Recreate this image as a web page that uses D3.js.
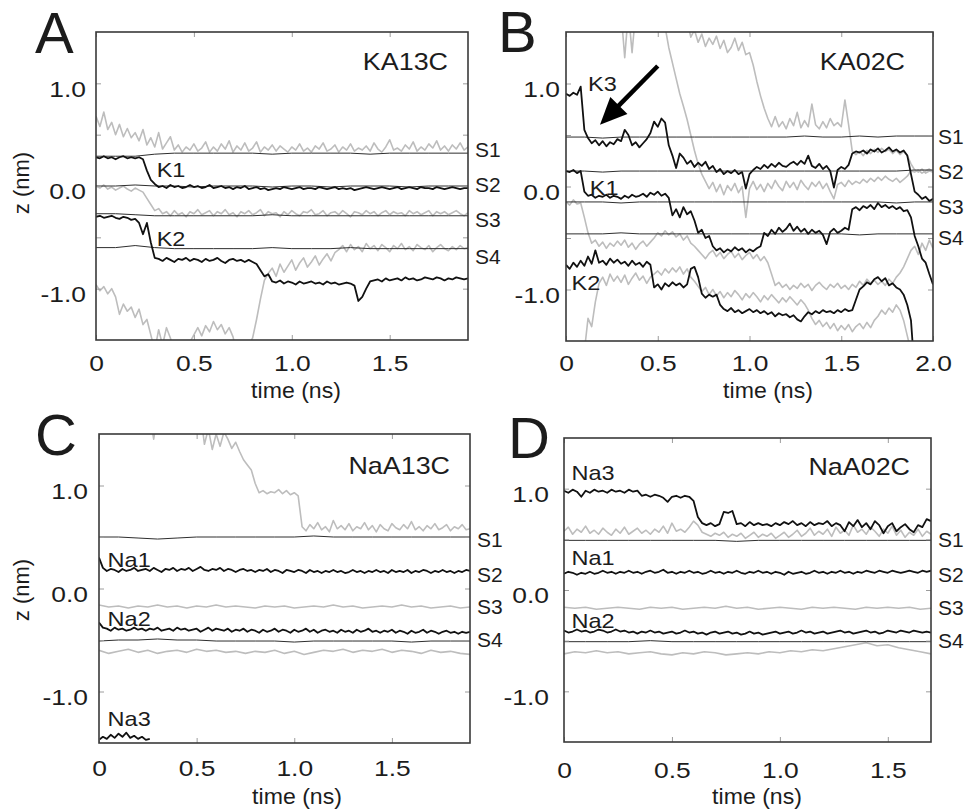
<!DOCTYPE html>
<html>
<head>
<meta charset="utf-8">
<script src="https://cdn.jsdelivr.net/npm/d3@7"></script>
<style>
  html, body { margin: 0; padding: 0; background: #ffffff; }
  svg text { font-family: "Liberation Sans", Arial, Helvetica, sans-serif; fill: #1c1c1c; }
</style>
</head>
<body>
<svg id="fig" width="966" height="811"></svg>
<script>
// ---------------------------------------------------------------
// Ion (black), water/other (grey) and site (thin) z-positions, nm.
// Traces are sampled on regular time steps given next to each one.
// ---------------------------------------------------------------

// Tick values
const xTicksShort = [0, 0.5, 1.0, 1.5];
const xTicksLong = [0, 0.5, 1.0, 1.5, 2.0];
const yTicks = [-1.0, -0.5, 0.0, 0.5, 1.0];
const siteNames = ["S1", "S2", "S3", "S4"];

// ---------- Panel A : KA13C (dt = 0.02 ns for traces, 0.1 ns for sites)
const A_K1 = [0.28,0.27,0.29,0.27,0.28,0.26,0.28,0.29,0.27,0.28,0.27,0.28,0.26,0.15,0.06,0.02,
  -0.01,0.00,-0.02,0.01,-0.01,0.00,-0.02,-0.01,0.01,-0.01,
  0.00,-0.02,-0.01,0.01,-0.02,-0.01,0.00,-0.02,-0.01,-0.03,
  -0.01,-0.02,0.00,-0.03,-0.02,-0.01,-0.03,-0.02,-0.04,-0.03,
  -0.02,-0.03,-0.01,-0.02,-0.03,-0.02,-0.01,-0.03,-0.02,-0.02,
  -0.03,-0.01,-0.02,-0.03,-0.02,-0.01,-0.03,-0.02,-0.03,-0.02,
  -0.04,-0.03,-0.02,-0.01,-0.02,-0.03,-0.02,-0.01,-0.02,-0.03,
  -0.02,-0.01,-0.03,-0.02,-0.01,-0.02,-0.03,-0.01,-0.02,-0.02,
  -0.03,-0.01,-0.02,-0.03,-0.02,-0.01,-0.02,-0.03,-0.02,-0.02];
const A_K2 = [-0.30,-0.29,-0.31,-0.30,-0.29,-0.31,-0.32,-0.30,-0.31,-0.33,-0.32,-0.36,-0.47,-0.36,-0.55,-0.70,
  -0.71,-0.73,-0.70,-0.72,-0.74,-0.71,-0.72,-0.70,-0.73,-0.71,
  -0.72,-0.74,-0.71,-0.73,-0.72,-0.70,-0.73,-0.75,-0.72,-0.71,
  -0.73,-0.72,-0.74,-0.72,-0.74,-0.76,-0.82,-0.88,-0.86,-0.93,
  -0.94,-0.92,-0.95,-0.93,-0.94,-0.96,-0.93,-0.95,-0.94,-0.93,
  -0.95,-0.94,-0.96,-0.93,-0.95,-0.94,-0.96,-0.95,-0.94,-0.95,
  -0.97,-1.12,-1.08,-1.00,-0.93,-0.92,-0.91,-0.93,-0.90,-0.92,
  -0.91,-0.90,-0.92,-0.89,-0.91,-0.90,-0.92,-0.91,-0.89,-0.90,
  -0.91,-0.89,-0.90,-0.92,-0.90,-0.91,-0.89,-0.90,-0.91,-0.90];
const A_G1 = [0.68,0.58,0.72,0.55,0.62,0.50,0.60,0.48,0.56,0.47,
  0.52,0.44,0.55,0.40,0.47,0.38,0.52,0.36,0.42,0.48,
  0.35,0.40,0.33,0.38,0.35,0.41,0.34,0.37,0.43,0.33,
  0.38,0.34,0.41,0.36,0.44,0.33,0.39,0.35,0.42,0.34,
  0.37,0.43,0.33,0.38,0.35,0.40,0.34,0.39,0.36,0.33,
  0.38,0.35,0.41,0.34,0.37,0.33,0.39,0.36,0.42,0.34,
  0.36,0.40,0.33,0.38,0.35,0.41,0.34,0.37,0.35,0.39,
  0.34,0.42,0.36,0.33,0.38,0.45,0.35,0.37,0.34,0.40,
  0.36,0.43,0.34,0.38,0.35,0.41,0.37,0.44,0.35,0.39,
  0.34,0.40,0.36,0.42,0.35,0.38];
const A_G2 = [0.00,-0.02,0.01,-0.03,-0.01,-0.04,-0.02,0.00,-0.03,-0.05,-0.02,-0.04,
  -0.06,-0.12,-0.18,-0.24,-0.22,-0.27,
  -0.25,-0.29,-0.24,-0.28,-0.26,-0.30,-0.25,-0.27,-0.23,-0.28,
  -0.26,-0.24,-0.29,-0.25,-0.27,-0.23,-0.28,-0.26,-0.30,-0.25,
  -0.27,-0.24,-0.28,-0.26,-0.23,-0.29,-0.25,-0.27,-0.26,-0.30,
  -0.25,-0.28,-0.24,-0.27,-0.29,-0.25,-0.26,-0.23,-0.28,-0.27,
  -0.24,-0.29,-0.26,-0.25,-0.28,-0.24,-0.27,-0.30,-0.25,-0.26,
  -0.28,-0.24,-0.27,-0.25,-0.29,-0.26,-0.24,-0.28,-0.25,-0.27,
  -0.26,-0.29,-0.24,-0.27,-0.25,-0.28,-0.26,-0.24,-0.29,-0.25,
  -0.27,-0.25,-0.28,-0.26,-0.24,-0.27,-0.29,-0.26];
const A_G3 = [-0.96,-1.02,-0.98,-1.05,-1.00, -1.08,-1.25,-1.15,-1.22,-1.18,
  -1.28,-1.20,-1.35,-1.30,-1.45, -1.60,-1.40,-1.55,-1.38,-1.48,
  -1.62,-1.70,-1.65,-1.58,-1.52, -1.45,-1.38,-1.46,-1.36,-1.42,
  -1.32,-1.40,-1.35,-1.44,-1.38, -1.47,-1.65,-1.70,-1.62,-1.55,
  -1.48,-1.30,-1.10,-0.92,-0.85, -0.80,-0.88,-0.76,-0.84,-0.78,
  -0.72,-0.82,-0.75,-0.70,-0.79, -0.74,-0.68,-0.77,-0.71,-0.66,
  -0.73,-0.65,-0.62,-0.58,-0.64, -0.57,-0.62,-0.59,-0.64,-0.56,
  -0.61,-0.58,-0.63,-0.57,-0.60, -0.64,-0.58,-0.61,-0.56,-0.62,
  -0.59,-0.63,-0.57,-0.60,-0.62, -0.58,-0.64,-0.60,-0.57,-0.61,
  -0.63,-0.59,-0.62,-0.58,-0.61,-0.60];
const A_S1 = [0.29,0.29,0.29,0.31,0.32,0.32,0.32,0.32,0.32,0.31,0.32,0.32,0.32,0.32,0.31,0.32,0.32,0.32,0.32,0.32];
const A_S2 = [0.00,0.00,0.01,0.00,0.00,-0.01,0.00,0.00,0.00,-0.01,0.00,0.00,-0.01,0.00,0.00,0.00,-0.01,0.00,0.00,0.00];
const A_S3 = [-0.27,-0.27,-0.28,-0.29,-0.29,-0.29,-0.29,-0.29,-0.29,-0.28,-0.29,-0.29,-0.29,-0.29,-0.29,-0.29,-0.29,-0.29,-0.29,-0.29];
const A_S4 = [-0.60,-0.60,-0.58,-0.60,-0.61,-0.61,-0.61,-0.61,-0.61,-0.60,-0.61,-0.61,-0.61,-0.60,-0.61,-0.61,-0.61,-0.61,-0.61,-0.61];

// ---------- Panel B : KA02C
const B_K3 = [0.90,0.88,0.91,0.89,0.97, 0.55,0.47,0.42,0.45,0.40,
  0.44,0.39,0.43,0.41,0.46, 0.44,0.55,0.50,0.40,0.43,
  0.38,0.42,0.46,0.52,0.63, 0.58,0.66,0.62,0.40,0.30,
  0.18,0.32,0.28,0.22,0.25, 0.19,0.23,0.20,0.24,0.17,
  0.20,0.14,0.17,0.12,0.15, 0.13,0.16,0.12,0.14,-0.02,
  0.12,0.16,0.19,0.17,0.21, 0.18,0.22,0.19,0.23,0.20,
  0.19,0.22,0.24,0.21,0.25, 0.22,0.30,0.20,0.18,0.22,
  0.17,0.20,0.15,-0.01,0.16, 0.19,0.17,0.21,0.32,0.34,
  0.33,0.35,0.32,0.36,0.34, 0.37,0.33,0.35,0.38,0.34,
  0.36,0.33,0.35,0.30,0.12, -0.05,-0.08,-0.12,-0.10,-0.14,-0.12];
const B_K1 = [0.15,0.14,0.16,0.13,0.15, -0.05,-0.09,-0.08,-0.11,-0.09,
  -0.10,-0.08,-0.11,-0.09,-0.10, -0.12,-0.09,-0.11,-0.08,-0.10,
  -0.09,-0.07,-0.10,-0.06,-0.08, -0.05,-0.09,-0.07,-0.11,-0.28,
  -0.22,-0.30,-0.20,-0.27,-0.24, -0.33,-0.45,-0.42,-0.50,-0.48,
  -0.58,-0.62,-0.60,-0.64,-0.61, -0.63,-0.59,-0.62,-0.60,-0.64,
  -0.61,-0.63,-0.60,-0.58,-0.45, -0.48,-0.42,-0.46,-0.40,-0.44,
  -0.41,-0.36,-0.43,-0.39,-0.44, -0.41,-0.46,-0.42,-0.45,-0.43,
  -0.47,-0.56,-0.44,-0.41,-0.45, -0.43,-0.40,-0.42,-0.22,-0.20,
  -0.23,-0.19,-0.21,-0.18,-0.22, -0.16,-0.20,-0.18,-0.21,-0.19,
  -0.22,-0.20,-0.24,-0.23,-0.30, -0.48,-0.58,-0.70,-0.74,-0.85,-0.95];
const B_K2 = [-0.76,-0.80,-0.74,-0.78,-0.72, -0.77,-0.68,-0.75,-0.62,-0.74,
  -0.72,-0.76,-0.70,-0.74,-0.71, -0.75,-0.73,-0.77,-0.72,-0.76,
  -0.74,-0.78,-0.73,-0.76,-0.98, -0.95,-1.00,-0.94,-0.97,-0.93,
  -0.96,-0.94,-0.98,-0.95,-0.80, -0.78,-0.88,-1.04,-1.08,-1.05,
  -1.07,-1.05,-1.15,-1.19,-1.21, -1.18,-1.22,-1.20,-1.23,-1.21,
  -1.19,-1.22,-1.20,-1.23,-1.21, -1.24,-1.22,-1.26,-1.23,-1.25,
  -1.24,-1.27,-1.25,-1.29,-1.31, -1.26,-1.22,-1.24,-1.21,-1.23,
  -1.20,-1.22,-1.21,-1.23,-1.20, -1.22,-1.19,-1.21,-1.20,-1.10,
  -1.00,-0.97,-0.93,-0.95,-0.90, -0.88,-0.92,-0.89,-0.96,-0.94,
  -0.98,-1.00,-1.05,-1.15,-1.30, -1.80];
const B_G1 = [1.70,1.70,1.70,1.70,1.70, 1.70,1.70,1.70,1.70,1.70,
  1.70,1.70,1.70,1.70,1.70, 1.70,1.25,1.70,1.30,1.70,
  1.70,1.70,1.70,1.70,1.70, 1.70,1.70,1.55,1.35,1.20,
  1.05,0.90,0.78,0.65,0.50, 0.35,0.22,0.12,0.05,-0.02,
  0.04,-0.05,0.02,-0.08,0.01, -0.04,0.03,-0.06,0.00,-0.30,
  -0.02,0.05,-0.03,0.02,-0.05, 0.03,-0.02,0.06,0.00,-0.04,
  0.05,-0.01,0.04,-0.03,0.06, 0.01,-0.03,0.04,0.00,0.05,
  -0.02,0.03,-0.05,-0.12,0.02, 0.04,0.00,0.06,0.02,0.05,
  0.03,0.07,0.04,0.08,0.05, 0.09,0.06,0.10,0.07,0.05,
  0.08,0.04,0.07,0.10,0.15, 0.14,0.16,0.13,0.15,0.17,0.14];
const B_G2 = [1.70,1.70,1.70,1.70,1.70, 1.70,1.70,1.70,1.70,1.70,
  1.70,1.70,1.70,1.70,1.70, 1.70,1.70,1.70,1.70,1.70,
  1.70,1.70,1.70,1.70,1.70, 1.70,1.70,1.70,1.70,1.70,
  1.70,1.70,1.55,1.62,1.45, 1.52,1.40,1.48,1.36,1.44,
  1.38,1.46,1.34,1.42,1.30, 1.35,1.44,1.32,1.40,1.28,
  1.30,1.18,1.02,0.88,0.76, 0.66,0.58,0.68,0.58,0.63,
  0.56,0.66,0.59,0.72,0.57, 0.64,0.58,0.80,0.60,0.56,
  0.63,0.57,0.66,0.59,0.62, 0.58,0.84,0.60,0.34,0.31,
  0.34,0.30,0.35,0.32,0.36, 0.33,0.37,0.34,0.36,0.32,
  0.35,0.31,0.34,0.30,0.22, 0.16,0.14,0.17,0.13,0.15,0.14];
const B_G3 = [-0.15,-0.18,-0.13,-0.17,-0.16, -0.30,-0.45,-0.55,-0.52,-0.58,
  -0.54,-0.60,-0.55,-0.58,-0.53, -0.57,-0.52,-0.59,-0.55,-0.61,
  -0.56,-0.53,-0.58,-0.54,-0.50, -0.45,-0.48,-0.43,-0.47,-0.44,
  -0.49,-0.46,-0.52,-0.48,-0.55, -0.58,-0.62,-0.66,-0.70,-0.65,
  -0.62,-0.68,-0.64,-0.70,-0.66, -0.63,-0.69,-0.65,-0.71,-0.67,
  -0.64,-0.70,-0.66,-0.72,-0.68, -0.74,-0.85,-0.96,-0.93,-0.98,
  -0.95,-1.00,-0.96,-0.99,-0.94, -0.98,-0.95,-1.01,-0.96,-0.93,
  -0.97,-1.00,-0.95,-0.98,-0.94, -0.99,-0.96,-1.00,-0.95,-0.98,
  -0.92,-0.96,-0.90,-0.94,-0.91, -0.95,-0.92,-0.96,-0.90,-0.94,
  -0.88,-0.84,-0.78,-0.70,-0.62, -0.58,-0.66,-0.55,-0.62,-0.52,-0.60];
const B_G4 = [null,null,null,null,null, -1.60,-1.28,-1.36,-1.12,-0.94,
  -0.88,-0.96,-0.85,-0.92,-0.87, -0.93,-0.86,-0.95,-0.89,-0.84,
  -0.91,-0.87,-0.94,-0.88,-0.85, -0.82,-0.86,-0.80,-0.84,-0.79,
  -0.83,-0.78,-0.85,-0.80,-0.88, -0.92,-0.97,-1.02,-0.98,-1.05,
  -1.00,-1.06,-1.02,-1.08,-1.03, -1.07,-1.01,-1.05,-1.10,-1.04,
  -1.08,-1.03,-1.07,-1.12,-1.06, -1.10,-1.05,-1.09,-1.13,-1.08,
  -1.12,-1.07,-1.11,-1.15,-1.10, -1.14,-1.20,-1.28,-1.34,-1.30,
  -1.36,-1.32,-1.38,-1.33,-1.40, -1.35,-1.39,-1.34,-1.41,-1.36,
  -1.33,-1.38,-1.32,-1.37,-1.30, -1.26,-1.20,-1.24,-1.18,-1.22,
  -1.15,-1.20,-1.30,-1.45,-1.60];
const B_S1 = [0.48,0.48,0.47,0.48,0.48,0.48,0.48,0.48,0.48,0.48,0.48,0.48,0.48,0.49,0.48,0.48,0.49,0.48,0.49,0.49,0.49];
const B_S2 = [0.15,0.15,0.14,0.15,0.15,0.15,0.15,0.15,0.15,0.15,0.15,0.15,0.15,0.15,0.15,0.15,0.15,0.15,0.15,0.16,0.16];
const B_S3 = [-0.15,-0.15,-0.15,-0.16,-0.15,-0.15,-0.15,-0.15,-0.15,-0.15,-0.15,-0.15,-0.15,-0.15,-0.15,-0.15,-0.15,-0.15,-0.16,-0.15,-0.15];
const B_S4 = [-0.46,-0.46,-0.46,-0.45,-0.46,-0.46,-0.46,-0.46,-0.46,-0.46,-0.46,-0.46,-0.46,-0.46,-0.46,-0.46,-0.47,-0.46,-0.46,-0.46,-0.46];

// ---------- Panel C : NaA13C
const C_Na1 = [0.30,0.20,
  0.17,0.19,0.18,0.16,0.19,0.17,0.18,0.20,0.17,0.18,
  0.19,0.17,0.20,0.18,0.16,0.19,0.18,0.20,0.17,0.19,
  0.18,0.20,0.17,0.19,0.21,0.18,0.17,0.19,0.18,0.20,
  0.17,0.19,0.18,0.16,0.18,0.19,0.17,0.18,0.16,0.18,
  0.17,0.19,0.16,0.18,0.17,0.15,0.18,0.17,0.16,0.18,
  0.17,0.15,0.18,0.16,0.17,0.15,0.17,0.16,0.18,0.16,
  0.17,0.15,0.16,0.18,0.16,0.17,0.15,0.17,0.16,0.18,
  0.16,0.17,0.15,0.18,0.16,0.17,0.16,0.18,0.15,0.17,
  0.16,0.18,0.17,0.15,0.17,0.16,0.18,0.16,0.17,0.15,
  0.17,0.16,0.18,0.17];
const C_Na2 = [-0.33,-0.38,
  -0.39,-0.41,-0.38,-0.40,-0.39,-0.41,-0.40,-0.38,-0.40,-0.39,
  -0.41,-0.39,-0.40,-0.38,-0.41,-0.40,-0.39,-0.41,-0.38,-0.40,
  -0.39,-0.41,-0.40,-0.39,-0.42,-0.40,-0.38,-0.41,-0.39,-0.40,
  -0.41,-0.39,-0.42,-0.40,-0.41,-0.39,-0.42,-0.40,-0.41,-0.43,
  -0.40,-0.42,-0.41,-0.39,-0.42,-0.40,-0.41,-0.43,-0.40,-0.42,
  -0.41,-0.39,-0.42,-0.40,-0.43,-0.41,-0.40,-0.42,-0.41,-0.43,
  -0.40,-0.42,-0.41,-0.43,-0.40,-0.42,-0.41,-0.39,-0.42,-0.41,
  -0.43,-0.41,-0.42,-0.40,-0.43,-0.41,-0.42,-0.44,-0.41,-0.43,
  -0.42,-0.40,-0.43,-0.41,-0.42,-0.44,-0.42,-0.41,-0.43,-0.42,
  -0.44,-0.42,-0.43,-0.42];
const C_Na3 = [-1.47,-1.44,-1.46,-1.42,-1.45,-1.41,-1.44,-1.40,-1.45,-1.43,-1.46,-1.44,-1.47,-1.46];
const C_Gtop = [1.70,1.70,1.70,1.70,1.70,1.70,1.70,1.70,1.70,1.70,1.70,1.70,1.70,1.70,
  1.45,1.70,
  1.70,1.70,1.70,1.70,1.70,1.70,1.70,1.70,1.70,1.70,1.70,
  1.40,1.55,1.35, 1.50,1.38,1.52,1.45,1.36, 1.42,1.33,1.25,1.20,1.15,
  1.02,0.93,0.95,0.92,0.94, 0.93,0.96,0.92,0.95,0.91, 0.93,0.90, 0.60,
  0.56,0.62,0.58,0.64,0.57,0.60,0.55,0.66,0.58,0.61,
  0.57,0.63,0.56,0.60,0.58,0.64,0.57,0.61,0.55,0.62,
  0.58,0.56,0.63,0.59,0.57,0.62,0.58,0.65,0.57,0.60,
  0.56,0.61,0.58,0.63,0.57,0.59,0.62,0.56,0.60,0.58,
  0.62,0.57,0.58];
// dt = 0.05 ns
const C_Gmid = [-0.16,-0.18,-0.17,-0.19,-0.17,-0.18,-0.16,-0.18,-0.17,-0.19,-0.17,-0.18,-0.16,-0.18,-0.17,-0.18,-0.19,-0.17,-0.18,-0.17,
  -0.19,-0.18,-0.17,-0.18,-0.16,-0.18,-0.17,-0.19,-0.18,-0.17,-0.18,-0.16,-0.18,-0.17,-0.19,-0.18,-0.17,-0.19,-0.18];
const C_Glow = [-0.60,-0.63,-0.61,-0.59,-0.62,-0.60,-0.63,-0.61,-0.60,-0.62,-0.59,-0.61,-0.60,-0.62,-0.61,-0.63,-0.61,-0.62,-0.60,-0.63,
  -0.61,-0.64,-0.62,-0.60,-0.61,-0.59,-0.62,-0.60,-0.61,-0.59,-0.62,-0.60,-0.61,-0.63,-0.60,-0.62,-0.61,-0.63,-0.64];
const C_S1 = [0.50,0.50,0.49,0.48,0.49,0.50,0.50,0.50,0.50,0.50,0.50,0.51,0.50,0.50,0.50,0.50,0.50,0.50,0.50,0.50];
const C_S4 = [-0.51,-0.50,-0.50,-0.49,-0.50,-0.50,-0.51,-0.51,-0.51,-0.51,-0.52,-0.51,-0.51,-0.51,-0.51,-0.51,-0.52,-0.51,-0.51,-0.51];

// ---------- Panel D : NaA02C
const D_Na3 = [0.98,0.96,0.99,0.97,0.92, 0.98,0.96,0.99,0.97,0.98,
  0.96,0.99,0.97,0.98,0.96, 0.99,0.97,0.98,
  0.93,0.94,0.92,0.94,0.93, 0.91,0.87,
  0.92,0.93,0.91,0.93,0.92, 0.88,0.72,0.66,
  0.64,0.66,0.63,0.65, 0.77,0.76,0.78,
  0.65,0.66,0.63,0.67,0.64, 0.66,0.64,0.65,0.63,0.66,
  0.64,0.67,0.65,0.68,0.64, 0.66,0.63,0.67,0.64,0.66,
  0.65,0.68,0.63,0.66,0.64, 0.58,0.67,0.63,0.69,0.62,
  0.66,0.60,0.68,0.64,0.56, 0.63,0.66,0.58,0.62,0.65,
  0.60,0.57,0.64,0.62,0.70,0.68];
const D_Na1 = [0.16,0.18,0.17,0.15,0.17,0.16,0.18,0.16,0.17,0.19,
  0.17,0.18,0.16,0.18,0.17,0.19,0.17,0.18,0.16,0.18,
  0.19,0.17,0.18,0.20,0.17,0.18,0.16,0.18,0.17,0.19,
  0.17,0.18,0.16,0.17,0.19,0.17,0.18,0.16,0.18,0.17,
  0.19,0.17,0.16,0.18,0.17,0.19,0.17,0.18,0.16,0.18,
  0.17,0.15,0.18,0.16,0.17,0.18,0.16,0.17,0.19,0.17,
  0.18,0.16,0.18,0.17,0.19,0.17,0.18,0.16,0.18,0.17,
  0.19,0.18,0.17,0.19,0.18,0.17,0.19,0.18,0.17,0.18,
  0.19,0.18,0.17,0.19,0.18,0.19];
const D_Na2 = [-0.40,-0.42,-0.41,-0.39,-0.41,-0.40,-0.42,-0.41,-0.39,-0.40,
  -0.42,-0.41,-0.39,-0.41,-0.40,-0.42,-0.41,-0.43,-0.41,-0.42,
  -0.40,-0.42,-0.41,-0.43,-0.42,-0.41,-0.43,-0.42,-0.40,-0.42,
  -0.41,-0.43,-0.42,-0.44,-0.42,-0.41,-0.43,-0.42,-0.41,-0.43,
  -0.42,-0.44,-0.43,-0.41,-0.43,-0.42,-0.44,-0.43,-0.42,-0.41,
  -0.43,-0.42,-0.41,-0.43,-0.42,-0.40,-0.42,-0.41,-0.43,-0.42,
  -0.41,-0.43,-0.42,-0.41,-0.40,-0.42,-0.41,-0.43,-0.42,-0.41,
  -0.40,-0.42,-0.41,-0.43,-0.42,-0.40,-0.41,-0.42,-0.40,-0.41,
  -0.42,-0.40,-0.41,-0.42,-0.41,-0.42];
const D_Gtop = [0.58,0.62,0.55,0.60,0.57,0.63,0.56,0.59,0.55,0.61,
  0.57,0.54,0.60,0.56,0.62,0.55,0.58,0.61,0.56,0.59,
  0.55,0.60,0.57,0.63,0.56,0.66,0.58,0.60,0.57,0.62,
  0.68,0.64,0.57,0.55,0.53,0.56,0.54,0.57,0.52,0.55,
  0.53,0.56,0.51,0.54,0.57,0.52,0.55,0.53,0.56,0.51,
  0.54,0.57,0.52,0.55,0.59,0.53,0.56,0.61,0.54,0.58,
  0.55,0.60,0.53,0.62,0.56,0.59,0.54,0.64,0.57,0.60,
  0.55,0.62,0.58,0.53,0.60,0.56,0.63,0.54,0.59,0.52,
  0.57,0.54,0.60,0.53,0.58,0.55];
// dt = 0.05 ns
const D_Gmid = [-0.17,-0.18,-0.17,-0.19,-0.18,-0.17,-0.18,-0.19,-0.17,-0.18,-0.17,-0.19,-0.18,-0.17,-0.18,-0.16,-0.18,-0.17,
  -0.19,-0.18,-0.17,-0.18,-0.19,-0.17,-0.18,-0.17,-0.18,-0.19,-0.17,-0.18,-0.17,-0.18,-0.17,-0.19,-0.18];
const D_Glow = [-0.63,-0.61,-0.62,-0.60,-0.62,-0.61,-0.63,-0.62,-0.61,-0.63,-0.64,-0.62,-0.63,-0.61,-0.62,-0.64,-0.63,-0.62,-0.63,-0.61,
  -0.62,-0.60,-0.61,-0.59,-0.60,-0.58, -0.56,-0.54,-0.52,-0.55,-0.54, -0.57,-0.59,-0.61,-0.63];
const D_S1 = [0.49,0.49,0.49,0.49,0.49,0.49,0.49,0.49,0.48,0.49,0.49,0.49,0.49,0.49,0.49,0.49,0.49,0.49];
const D_S4 = [-0.51,-0.51,-0.51,-0.51,-0.50,-0.51,-0.51,-0.51,-0.51,-0.51,-0.51,-0.51,-0.51,-0.51,-0.51,-0.51,-0.51,-0.51];

// ---------------------------------------------------------------
// Panel layout and which series go where
// ---------------------------------------------------------------
const panels = [
  { letter: "A", title: "KA13C", box: [96, 32, 468, 340], tmax: 1.9, xTicks: xTicksShort,
    xPad: 15, yGap: 10, yTitle: [29, 183], xTitle: [296, 398], letterAt: [35, 53], titleAt: [448, 70],
    grey: [[A_G1, 0.02], [A_G2, 0.02], [A_G3, 0.02]],
    sites: [[A_S1, 0.1], [A_S2, 0.1], [A_S3, 0.1], [A_S4, 0.1]],
    ions: [[A_K1, 0.02], [A_K2, 0.02]],
    ionLabels: [["K1", 0.31, 0.16], ["K2", 0.31, -0.51]],
    siteX: 475, siteZ: [0.35, 0.01, -0.33, -0.69] },
  { letter: "B", title: "KA02C", box: [566, 32, 933, 341], tmax: 2.0, xTicks: xTicksLong,
    xPad: 14, yGap: 6, yTitle: null, xTitle: [768, 398], letterAt: [498, 52], titleAt: [905, 70],
    grey: [[B_G1, 0.02], [B_G2, 0.02], [B_G3, 0.02], [B_G4, 0.02]],
    sites: [[B_S1, 0.1], [B_S2, 0.1], [B_S3, 0.1], [B_S4, 0.1]],
    ions: [[B_K3, 0.02], [B_K1, 0.02], [B_K2, 0.02]],
    ionLabels: [["K3", 0.12, 1.0], ["K1", 0.13, -0.01], ["K2", 0.03, -0.93]],
    arrow: { from: [0.50, 1.17], to: [0.185, 0.60] },
    siteX: 938, siteZ: [0.48, 0.14, -0.20, -0.50] },
  { letter: "C", title: "NaA13C", box: [99, 434, 470, 743], tmax: 1.9, xTicks: xTicksShort,
    xPad: 17, yGap: 11, yTitle: [29, 590], xTitle: [297, 804], letterAt: [35, 455], titleAt: [450, 474],
    grey: [[C_Gtop, 0.02], [C_Gmid, 0.05], [C_Glow, 0.05]],
    sites: [[C_S1, 0.1], [C_S4, 0.1]],
    ions: [[C_Na1, 0.02], [C_Na2, 0.02], [C_Na3, 0.02]],
    ionLabels: [["Na1", 0.044, 0.28], ["Na2", 0.044, -0.29], ["Na3", 0.044, -1.26]],
    siteX: 477, siteZ: [0.47, 0.13, -0.18, -0.50] },
  { letter: "D", title: "NaA02C", box: [564, 438, 931, 742], tmax: 1.7, xTicks: xTicksShort,
    xPad: 20, yGap: 15, yTitle: null, xTitle: [757, 804], letterAt: [508, 458], titleAt: [910, 475],
    grey: [[D_Gtop, 0.02], [D_Gmid, 0.05], [D_Glow, 0.05]],
    sites: [[D_S1, 0.1], [D_S4, 0.1]],
    ions: [[D_Na3, 0.02], [D_Na1, 0.02], [D_Na2, 0.02]],
    ionLabels: [["Na3", 0.035, 1.16], ["Na1", 0.035, 0.32], ["Na2", 0.035, -0.30]],
    siteX: 938, siteZ: [0.49, 0.15, -0.18, -0.50] }
];

// ---------------------------------------------------------------
// Drawing
// ---------------------------------------------------------------
const FONT = '"Liberation Sans", Arial, Helvetica, sans-serif';
const svg = d3.select("#fig");
const defs = svg.append("defs");
const fmtX = d => (d === 0 ? "0" : d.toFixed(1));
const fmtY = d => (Number.isInteger(d) ? d.toFixed(1) : "");

function addText(g, str, x, y, size, sx, anchor) {
  return g.append("text").text(str)
    .attr("transform", `translate(${x},${y}) scale(${sx},1)`)
    .attr("font-size", size)
    .attr("text-anchor", anchor || "start");
}

panels.forEach((p, pi) => {
  const [x0, y0, x1, y1] = p.box;
  const x = d3.scaleLinear().domain([0, p.tmax]).range([x0, x1]);
  const y = d3.scaleLinear().domain([-1.5, 1.5]).range([y1, y0]);
  const g = svg.append("g");

  const clipId = "clip" + pi;
  defs.append("clipPath").attr("id", clipId)
    .append("rect").attr("x", x0).attr("y", y0).attr("width", x1 - x0).attr("height", y1 - y0);
  const plot = g.append("g").attr("clip-path", `url(#${clipId})`);

  const line = d3.line()
    .defined(d => d[1] !== null && d[1] !== undefined)
    .x(d => x(d[0])).y(d => y(d[1]));
  const pts = (vals, dt) => vals.map((v, i) => [i * dt, v]);

  p.grey.forEach(([vals, dt]) => {
    plot.append("path").attr("d", line(pts(vals, dt)))
      .attr("fill", "none").attr("stroke", "#bdbdbd").attr("stroke-width", 1.6)
      .attr("stroke-linejoin", "round");
  });
  p.sites.forEach(([vals, dt]) => {
    plot.append("path").attr("d", line(pts(vals, dt)))
      .attr("fill", "none").attr("stroke", "#2e2e2e").attr("stroke-width", 1.0);
  });
  p.ions.forEach(([vals, dt]) => {
    plot.append("path").attr("d", line(pts(vals, dt)))
      .attr("fill", "none").attr("stroke", "#111").attr("stroke-width", 1.8)
      .attr("stroke-linejoin", "round");
  });

  // axes: inward ticks on all four sides, labels on bottom and left
  const tickCol = "#9c9c9c";
  const gb = g.append("g").attr("transform", `translate(0,${y1})`)
    .call(d3.axisBottom(x).tickValues(p.xTicks).tickSizeInner(-5).tickSizeOuter(0)
      .tickPadding(p.xPad).tickFormat(fmtX));
  const gt = g.append("g").attr("transform", `translate(0,${y0})`)
    .call(d3.axisTop(x).tickValues(p.xTicks).tickSizeInner(-5).tickSizeOuter(0).tickFormat(""));
  const gl = g.append("g").attr("transform", `translate(${x0},0)`)
    .call(d3.axisLeft(y).tickValues(yTicks).tickSizeInner(-5).tickSizeOuter(0)
      .tickPadding(p.yGap / 1.2).tickFormat(fmtY));
  const gr = g.append("g").attr("transform", `translate(${x1},0)`)
    .call(d3.axisRight(y).tickValues(yTicks).tickSizeInner(-5).tickSizeOuter(0).tickFormat(""));
  [gb, gt, gl, gr].forEach(a => {
    a.select(".domain").remove();
    a.selectAll(".tick line").attr("stroke", tickCol).attr("stroke-width", 1);
    a.attr("font-family", FONT).attr("font-size", 22);
  });
  gb.selectAll(".tick text").attr("fill", "#1c1c1c").attr("transform", "scale(1.2,1)");
  gl.selectAll(".tick text").attr("fill", "#1c1c1c").attr("dy", "0.58em").attr("transform", "scale(1.2,1)");

  // frame
  g.append("rect").attr("x", x0).attr("y", y0).attr("width", x1 - x0).attr("height", y1 - y0)
    .attr("fill", "none").attr("stroke", "#3a3a3a").attr("stroke-width", 1.6);

  // panel letter and run title
  addText(g, p.letter, p.letterAt[0], p.letterAt[1], 58, 1.0, "start");
  addText(g, p.title, p.titleAt[0], p.titleAt[1], 24, 1.12, "end");

  // axis titles
  addText(g, "time (ns)", p.xTitle[0], p.xTitle[1], 22, 1.05, "middle");
  if (p.yTitle) {
    g.append("text").text("z (nm)")
      .attr("transform", `translate(${p.yTitle[0]},${p.yTitle[1]}) rotate(-90)`)
      .attr("font-size", 22).attr("text-anchor", "middle");
  }

  // ion labels
  p.ionLabels.forEach(([name, t, z]) => {
    addText(g, name, x(t), y(z) + 7.5, 21, 1.12, "start");
  });
  // site labels
  p.siteZ.forEach((z, i) => {
    addText(g, siteNames[i], p.siteX, y(z) + 7, 20, 1.05, "start");
  });

  // arrow pointing at K3
  if (p.arrow) {
    const ax = x(p.arrow.from[0]), ay = y(p.arrow.from[1]);
    const bx = x(p.arrow.to[0]), by = y(p.arrow.to[1]);
    const len = Math.hypot(bx - ax, by - ay);
    const ux = (bx - ax) / len, uy = (by - ay) / len;
    const headL = 27, headW = 12;
    const cx = bx - ux * headL, cy = by - uy * headL;
    g.append("line").attr("x1", ax).attr("y1", ay).attr("x2", cx + ux * 2).attr("y2", cy + uy * 2)
      .attr("stroke", "#000").attr("stroke-width", 4.5);
    g.append("path")
      .attr("d", `M${bx},${by} L${cx - uy * headW},${cy + ux * headW} L${cx + uy * headW},${cy - ux * headW} Z`)
      .attr("fill", "#000");
  }
});
</script>
</body>
</html>
